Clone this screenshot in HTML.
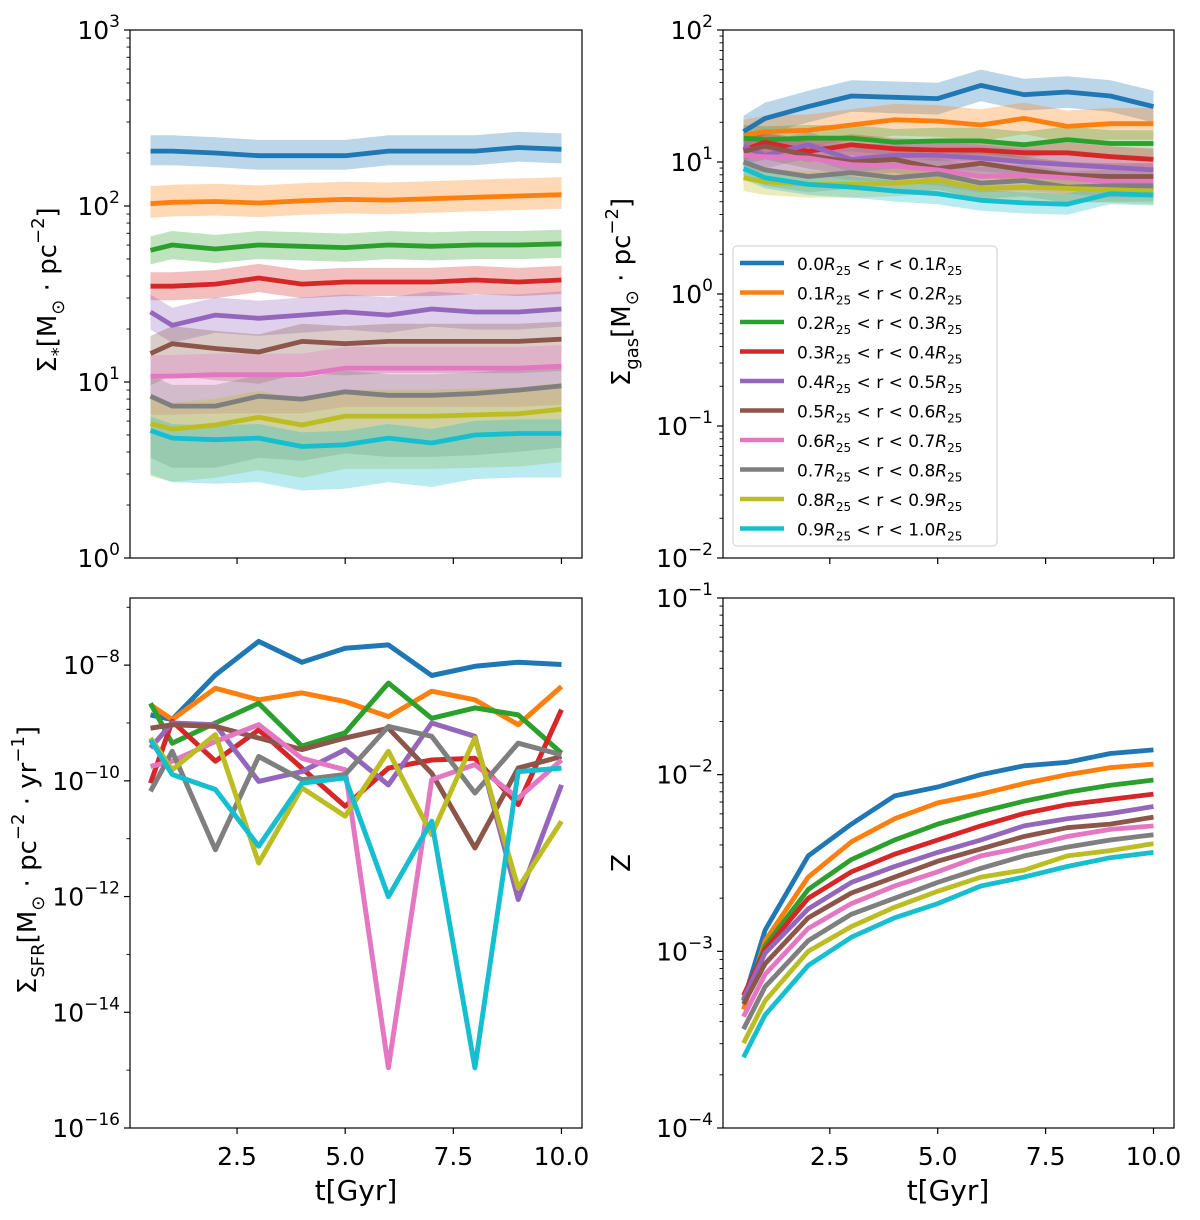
<!DOCTYPE html>
<html><head><meta charset="utf-8"><style>
body{margin:0;background:#fff;}
svg{display:block;font-family:"DejaVu Sans","Liberation Sans",sans-serif;}
</style></head><body>
<svg id="fig" width="1200" height="1220" viewBox="0 0 1200 1220" xmlns="http://www.w3.org/2000/svg"></svg>
<script>
const times=[0.5,1,2,3,4,5,6,7,8,9,10];
const colors=["#1f77b4","#ff7f0e","#2ca02c","#d62728","#9467bd","#8c564b","#e377c2","#7f7f7f","#bcbd22","#17becf"];
const legendLabels=["0.0","0.1","0.2","0.3","0.4","0.5","0.6","0.7","0.8","0.9"];
const legendLabelsHi=["0.1","0.2","0.3","0.4","0.5","0.6","0.7","0.8","0.9","1.0"];
// Panel 1: stellar surface density (linear values)
const sigmaStar=[
[205,205,200,193,193,193,205,205,205,215,210],
[103,105,106,104,107,109,108,110,112,114,116],
[56,60,57,60,59,58,60,59,60,60,61],
[35,35,36,39,36,37,37,37,38,37,38],
[25,21,24,23,24,25,24,26,25,25,26],
[14.5,16.5,15.5,14.8,17,16.5,17,17,17,17,17.5],
[10.8,10.8,11,11,11,12,12,12,12,12,12.3],
[8.3,7.3,7.3,8.3,8,8.8,8.4,8.4,8.6,9,9.5],
[5.8,5.4,5.7,6.3,5.7,6.4,6.4,6.4,6.5,6.6,7],
[5.3,4.8,4.7,4.8,4.3,4.4,4.8,4.5,5,5.1,5.1]];
const starBandLo=[0.08,0.08,0.08,0.08,0.1,0.18,0.22,0.35,0.3,0.25];
const starBandHi=[0.09,0.1,0.08,0.08,0.1,0.1,0.12,0.12,0.15,0.08];
// Panel 2: gas surface density (log10)
const logSigmaGas=[
[1.23,1.33,1.42,1.50,1.49,1.48,1.58,1.51,1.53,1.50,1.42],
[1.20,1.23,1.24,1.28,1.32,1.31,1.28,1.33,1.27,1.29,1.29],
[1.18,1.17,1.18,1.18,1.15,1.16,1.16,1.13,1.17,1.14,1.14],
[1.09,1.15,1.08,1.13,1.10,1.09,1.09,1.07,1.07,1.04,1.02],
[1.12,1.05,1.13,1.02,1.05,1.05,1.03,1.00,0.98,0.96,0.94],
[1.08,1.12,1.05,1.00,1.02,0.95,0.99,0.94,0.90,0.89,0.89],
[1.05,1.04,1.03,0.98,0.97,0.94,0.89,0.90,0.88,0.85,0.85],
[1.00,0.94,0.89,0.92,0.88,0.91,0.84,0.86,0.81,0.82,0.82],
[0.88,0.85,0.83,0.83,0.84,0.86,0.80,0.81,0.80,0.79,0.78],
[0.95,0.88,0.83,0.81,0.78,0.76,0.71,0.69,0.68,0.76,0.75]];
const gasBand=[0.12,0.12,0.1,0.08,0.1,0.1,0.12,0.12,0.1,0.08];
// Panel 3: SFR surface density (log10)
const logSigmaSFR=[
[-8.86,-8.94,-8.17,-7.59,-7.95,-7.71,-7.65,-8.18,-8.02,-7.95,-7.99],
[-8.69,-8.94,-8.40,-8.60,-8.48,-8.63,-8.89,-8.45,-8.60,-9.03,-8.37],
[-8.66,-9.35,-9.00,-8.66,-9.40,-9.17,-8.31,-8.92,-8.74,-8.86,-9.52],
[-10.04,-8.97,-9.66,-9.12,-9.78,-10.44,-9.78,-9.64,-9.61,-10.41,-8.77],
[-9.43,-9.00,-9.03,-10.01,-9.84,-9.46,-10.07,-9.00,-9.23,-12.05,-10.07],
[-9.09,-9.03,-9.06,-9.26,-9.46,-9.26,-9.09,-9.87,-11.16,-9.78,-9.58],
[-9.75,-9.66,-9.32,-9.03,-9.61,-9.81,-14.96,-9.98,-9.72,-10.30,-9.64],
[-10.18,-9.49,-11.19,-9.58,-9.98,-9.89,-9.06,-9.23,-10.21,-9.35,-9.55],
[-9.26,-9.81,-9.20,-11.42,-10.12,-10.61,-9.49,-10.93,-9.26,-11.85,-10.70],
[-9.29,-9.89,-10.15,-11.13,-10.04,-9.95,-12.00,-10.70,-14.96,-9.84,-9.78]];
// Panel 4: metallicity (log10)
const logZ=[
[-3.28,-2.88,-2.46,-2.28,-2.12,-2.07,-2.00,-1.95,-1.93,-1.88,-1.86],
[-3.33,-2.94,-2.58,-2.38,-2.25,-2.16,-2.11,-2.05,-2.00,-1.96,-1.94],
[-3.28,-2.97,-2.65,-2.48,-2.37,-2.28,-2.21,-2.15,-2.10,-2.06,-2.03],
[-3.25,-2.99,-2.70,-2.55,-2.45,-2.37,-2.29,-2.22,-2.17,-2.14,-2.11],
[-3.27,-3.01,-2.76,-2.61,-2.52,-2.44,-2.37,-2.29,-2.25,-2.22,-2.18],
[-3.30,-3.07,-2.81,-2.67,-2.58,-2.49,-2.42,-2.35,-2.30,-2.28,-2.24],
[-3.37,-3.13,-2.87,-2.73,-2.63,-2.55,-2.46,-2.41,-2.35,-2.31,-2.29],
[-3.44,-3.20,-2.94,-2.79,-2.70,-2.61,-2.53,-2.46,-2.41,-2.37,-2.34],
[-3.52,-3.28,-3.00,-2.86,-2.75,-2.66,-2.58,-2.54,-2.46,-2.43,-2.39],
[-3.60,-3.36,-3.08,-2.92,-2.81,-2.73,-2.63,-2.58,-2.52,-2.47,-2.44]];
const xTicks=[2.5,5.0,7.5,10.0];

const NS="http://www.w3.org/2000/svg";
const svg=document.getElementById('fig');
function mk(tag,attrs,parent){const e=document.createElementNS(NS,tag);for(const k in attrs)e.setAttribute(k,attrs[k]);(parent||svg).appendChild(e);return e;}

const panels=[
 {name:"stellar-density",x0:130,x1:582,y0:30,y1:558,lmin:0,lmax:3,xl:false},
 {name:"gas-density",x0:723,x1:1174,y0:30,y1:558,lmin:-2,lmax:2,xl:false},
 {name:"sfr-density",x0:130,x1:582,y0:598,y1:1128,lmin:-16,lmax:-6.84,xl:true,ticks:[-16,-14,-12,-10,-8]},
 {name:"metallicity",x0:723,x1:1174,y0:598,y1:1128,lmin:-4,lmax:-1,xl:true}];

panels.forEach((p,pi)=>{
 const g=mk('g',{});
 
 
 const xs=t=>p.x0+(t-0.025)/(10.475-0.025)*(p.x1-p.x0);
 const ys=l=>p.y1-(l-p.lmin)/(p.lmax-p.lmin)*(p.y1-p.y0);
 const cp=mk('clipPath',{id:'clip'+pi},g);mk('rect',{x:p.x0,y:p.y0,width:p.x1-p.x0,height:p.y1-p.y0},cp);
 const plot=mk('g',{'clip-path':'url(#clip'+pi+')'},g);
 
 
 if(pi===0||pi===1){
  for(let s=0;s<10;s++){
   const lv=pi===0?sigmaStar[s].map(v=>Math.log10(v)):logSigmaGas[s];
   const lo=pi===0?starBandLo[s]:gasBand[s], hi=pi===0?starBandHi[s]:gasBand[s];
   let d='';
   times.forEach((t,i)=>{d+=(i?'L':'M')+xs(t).toFixed(1)+' '+ys(lv[i]+hi).toFixed(1);});
   for(let i=times.length-1;i>=0;i--)d+='L'+xs(times[i]).toFixed(1)+' '+ys(lv[i]-lo).toFixed(1);
   const b=mk('path',{d:d+'Z',fill:colors[s],'fill-opacity':0.3,stroke:'none'},plot);
   
   
  }
 }
 for(let s=0;s<10;s++){
  const lv=pi===0?sigmaStar[s].map(v=>Math.log10(v)):pi===1?logSigmaGas[s]:pi===2?logSigmaSFR[s]:logZ[s];
  const pts=times.map((t,i)=>xs(t).toFixed(1)+','+ys(lv[i]).toFixed(1)).join(' ');
  const l=mk('polyline',{points:pts,fill:'none',stroke:colors[s],'stroke-width':pi===2?5:4.8,'stroke-linejoin':'round'},plot);
  
  
 }
 mk('rect',{x:p.x0,y:p.y0,width:p.x1-p.x0,height:p.y1-p.y0,fill:'none',stroke:'#000','stroke-width':1.2},g);
 xTicks.forEach(t=>{
  mk('line',{x1:xs(t),x2:xs(t),y1:p.y1,y2:p.y1+6,stroke:'#000','stroke-width':1.2},g);
  if(p.xl){const tx=mk('text',{x:xs(t),y:p.y1+37,'font-size':25,'text-anchor':'middle'},g);tx.textContent=t.toFixed(1);
   }
 });
 const major=p.ticks||(()=>{const a=[];for(let k=Math.ceil(p.lmin);k<=Math.floor(p.lmax);k++)a.push(k);return a;})();
 const step=(pi===2)?2:1;
 major.forEach(k=>{
  const y=ys(k);
  mk('line',{x1:p.x0-6,x2:p.x0,y1:y,y2:y,stroke:'#000','stroke-width':1.2},g);
  const tx=mk('text',{x:p.x0-10,y:y+9,'font-size':25,'text-anchor':'end'},g);
  
  const a=mk('tspan',{},tx);a.textContent='10';
  const b=mk('tspan',{dy:-12,'font-size':17},tx);b.textContent=String(k).replace('-','−');
  if(step===1){for(let m=2;m<10;m++){const yy=ys(k+Math.log10(m));if(yy>p.y0&&yy<p.y1)mk('line',{x1:p.x0-3.5,x2:p.x0,y1:yy,y2:yy,stroke:'#000','stroke-width':0.9},g);}}
  else{const yy=ys(k+1);if(yy>p.y0)mk('line',{x1:p.x0-3.5,x2:p.x0,y1:yy,y2:yy,stroke:'#000','stroke-width':0.9},g);}
 });
});

function ylab(cx,cy,html,name){
 const t=mk('text',{x:cx,y:cy,'font-size':26,'text-anchor':'middle',transform:'rotate(-90 '+cx+' '+cy+')'});
 t.innerHTML=html;
 
}
ylab(56,290,'Σ<tspan font-size="18" dy="8">*</tspan><tspan dy="-8">[M</tspan><tspan font-size="18" dy="8">⊙</tspan><tspan dy="-8"> · pc</tspan><tspan font-size="18" dy="-12">−2</tspan><tspan dy="12">]</tspan>','y-axis-title-stellar');
ylab(630,292,'Σ<tspan font-size="18" dy="8">gas</tspan><tspan dy="-8">[M</tspan><tspan font-size="18" dy="8">⊙</tspan><tspan dy="-8"> · pc</tspan><tspan font-size="18" dy="-12">−2</tspan><tspan dy="12">]</tspan>','y-axis-title-gas');
ylab(36,860,'Σ<tspan font-size="18" dy="8">SFR</tspan><tspan dy="-8">[M</tspan><tspan font-size="18" dy="8">⊙</tspan><tspan dy="-8"> · pc</tspan><tspan font-size="18" dy="-12">−2</tspan><tspan dy="12"> · yr</tspan><tspan font-size="18" dy="-12">−1</tspan><tspan dy="12">]</tspan>','y-axis-title-sfr');
ylab(630,863,'Z','y-axis-title-metallicity');
[356,948].forEach((cx,i)=>{const t=mk('text',{x:cx,y:1200,'font-size':28,'text-anchor':'middle'});t.textContent='t[Gyr]';
 });

const lg=mk('g',{});


mk('rect',{x:733,y:246,width:264,height:300,rx:4,fill:'#fff','fill-opacity':0.85,stroke:'#ccc','stroke-width':1},lg);
for(let s=0;s<10;s++){
 const y=263+s*29.5;
 const e=mk('g',{},lg);
 
 
 mk('line',{x1:740,x2:784,y1:y,y2:y,stroke:colors[s],'stroke-width':4.5},e);
 const t=mk('text',{x:797,y:y+7,'font-size':17},e);
 t.innerHTML=legendLabels[s]+'<tspan font-style="italic">R</tspan><tspan font-size="12" dy="5">25</tspan><tspan dy="-5"> &lt; r &lt; '+legendLabelsHi[s]+'</tspan><tspan font-style="italic">R</tspan><tspan font-size="12" dy="5">25</tspan>';
}
</script>
</body></html>
